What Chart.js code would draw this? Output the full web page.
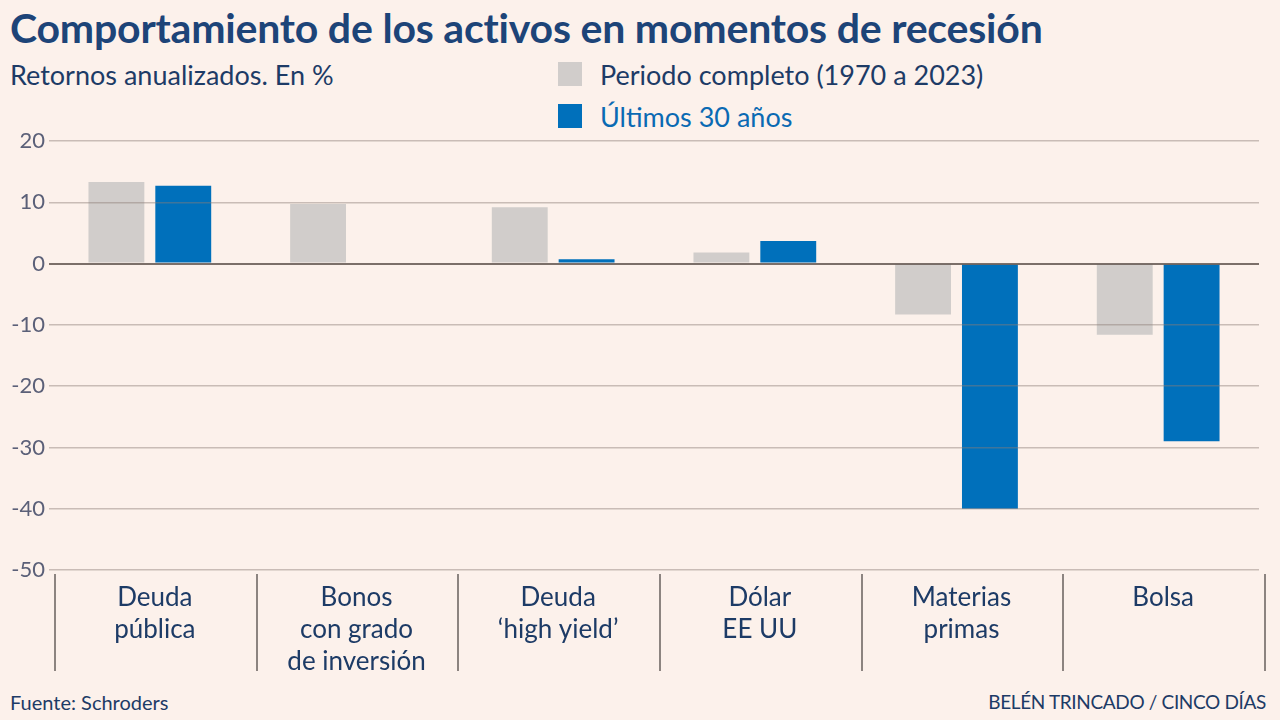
<!DOCTYPE html>
<html>
<head>
<meta charset="utf-8">
<script src="https://cdn.jsdelivr.net/npm/chart.js@4"></script>
<style>
  body { margin: 0; background: #fcf1eb; width: 1280px; height: 720px; overflow: hidden; font-family: Lato, "Noto Sans", sans-serif; }
  .txt { position: absolute; white-space: nowrap; color: #1d3b66; }
  #title { left: 10px; top: 3px; font-size: 41px; font-weight: bold; color: #1d4478; letter-spacing: -0.2px; }
  #sub { left: 10px; top: 58px; font-size: 27px; }
  .sw { position: absolute; width: 24px; height: 24px; }
  .leg { left: 600px; font-size: 27px; }
  #src { left: 10px; top: 690px; font-size: 20px; }
  #cred { right: 14px; top: 690px; font-size: 19px; letter-spacing: -0.35px; }
  #wrap { position: absolute; left: 0; top: 120px; width: 1280px; height: 560px; }
</style>
</head>
<body>
<div class="txt" id="title">Comportamiento de los activos en momentos de recesión</div>
<div class="txt" id="sub">Retornos anualizados. En %</div>
<div class="sw" style="left:558px; top:62px; background:#d1cdcb;"></div>
<div class="txt leg" style="top:58px;">Periodo completo (1970 a 2023)</div>
<div class="sw" style="left:558px; top:104px; background:#0070bb;"></div>
<div class="txt leg" style="top:100px; color:#0a6ab3;">Últimos 30 años</div>
<div id="wrap"><canvas id="chart"></canvas></div>
<div class="txt" id="src">Fuente: Schroders</div>
<div class="txt" id="cred">BELÉN TRINCADO / CINCO DÍAS</div>

<script>
// categorías y valores
const categories = [
    ['Deuda', 'pública'],
    ['Bonos', 'con grado', 'de inversión'],
    ['Deuda', '\u2018high yield\u2019'],
    ['Dólar', 'EE UU'],
    ['Materias', 'primas'],
    ['Bolsa']
];
const periodoCompleto = [13.3, 9.7, 9.2, 1.8, -8.3, -11.6];
const ultimos30 = [12.7, 0, 0.7, 3.7, -40, -29];
const yTicks = [20, 10, 0, -10, -20, -30, -40, -50];

// separadores verticales entre categorías (un poco desplazados a la derecha, como en el original)
const separators = {
    id: 'separators',
    afterDraw(chart) {
        const x = chart.scales.x;
        const ctx = chart.ctx;
        const bottom = chart.chartArea.bottom;
        ctx.save();
        ctx.strokeStyle = '#8c8480';
        ctx.lineWidth = 2;
        for (let i = 0; i <= categories.length; i++) {
            const px = Math.round(x.getPixelForValue(i - 0.5)) + 6;
            ctx.beginPath();
            ctx.moveTo(px, bottom + 4);
            ctx.lineTo(px, bottom + 101);
            ctx.stroke();
        }
        ctx.restore();
    }
};

const ctx = document.getElementById('chart').getContext('2d');
new Chart(ctx, {
    type: 'bar',
    data: {
        labels: categories,
        datasets: [{
            label: 'Periodo completo (1970 a 2023)',
            data: periodoCompleto,
            backgroundColor: '#d1cdcb'
        }, {
            label: 'Últimos 30 años',
            data: ultimos30,
            backgroundColor: '#0070bb'
        }]
    },
    options: {
        responsive: true,
        maintainAspectRatio: false,
        animation: false,
        categoryPercentage: 0.663,
        barPercentage: 0.836,
        layout: { padding: { top: 21, right: 21, left: 0, bottom: 0 } },
        plugins: {
            legend: { display: false },
            tooltip: { enabled: false }
        },
        scales: {
            y: {
                min: -50,
                max: 20,
                afterBuildTicks: (scale) => { scale.ticks = yTicks.map(v => ({ value: v })); },
                afterFit: (scale) => { scale.width = 49; },
                border: { display: false },
                grid: {
                    z: 1,
                    drawTicks: false,
                    color: (c) => c.tick && c.tick.value === 0 ? 'rgba(100,88,82,0.85)' : 'rgba(140,125,118,0.45)',
                    lineWidth: (c) => c.tick && c.tick.value === 0 ? 2 : 1.5
                },
                ticks: {
                    padding: 4,
                    color: '#5b6078',
                    font: { family: 'Lato', size: 22 }
                }
            },
            x: {
                afterFit: (scale) => { scale.height = 110; },
                border: { display: false },
                grid: { display: false },
                ticks: {
                    padding: 4,
                    labelOffset: 5,
                    color: '#1d3b66',
                    maxRotation: 0,
                    autoSkip: false,
                    font: { family: 'Lato', size: 26, lineHeight: 1.23 }
                }
            }
        }
    },
    plugins: [separators]
});
</script>
</body>
</html>
